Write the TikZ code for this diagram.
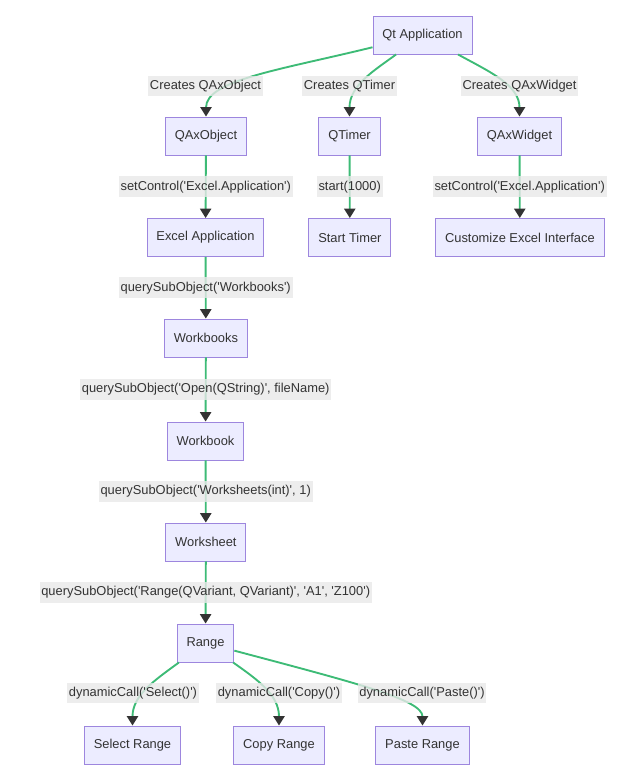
\documentclass[tikz,border=0pt]{standalone}
\usepackage{fontspec}
\setmainfont{Liberation Sans}[Ligatures=TeXOff]
\usepackage{tikz}
\usetikzlibrary{arrows.meta,positioning}
\definecolor{boxfill}{HTML}{ECECFF}
\definecolor{boxline}{HTML}{9D86DE}
\definecolor{linkgreen}{HTML}{3DBB76}
\definecolor{labelgray}{HTML}{E8E8E8}
\definecolor{inkdark}{HTML}{333333}

\begin{document}
\begin{tikzpicture}[x=0.03cm,y=-0.03cm,every node/.style={font=\fontsize{11}{13}\selectfont,text=inkdark},block/.style={draw=boxline,line width=0.8pt,fill=boxfill,minimum height=1.14cm,inner xsep=8pt},elabel/.style={fill=labelgray,fill opacity=0.8,text opacity=1,inner xsep=1.5pt,minimum height=0.62cm},link/.style={draw=linkgreen,line width=1.6pt,-{Triangle[width=9.5pt,length=8pt,color=inkdark]}}]
\useasboundingbox (0,0) rectangle (640,780);
\node[block] (qtapp) at (422.5,35) {Qt Application};
\node[block] (qaxobj) at (206,136) {QAxObject};
\node[block] (qtimer) at (349.5,136) {QTimer};
\node[block] (qaxwid) at (519.5,136) {QAxWidget};
\node[block] (excelapp) at (205.5,237.5) {Excel Application};
\node[block] (starttimer) at (349.9,237.5) {Start Timer};
\node[block] (customize) at (519.9,237.5) {Customize Excel Interface};
\node[block] (workbooks) at (205.9,338) {Workbooks};
\node[block] (workbook) at (205.5,441) {Workbook};
\node[block] (worksheet) at (205.9,542) {Worksheet};
\node[block] (range) at (205.5,643) {Range};
\node[block] (selectr) at (132.5,745) {Select Range};
\node[block] (copyr) at (279,745) {Copy Range};
\node[block] (paster) at (422.5,745) {Paste Range};
% top fan-out
\draw[link] (qtapp) .. controls (280,70) and (206,80) .. (qaxobj);
\draw[link] (qtapp) .. controls (375,70) and (349.5,85) .. (qtimer);
\draw[link] (qtapp) .. controls (490,72) and (519.5,85) .. (qaxwid);
\node[elabel] (lqaxobj) at (205.5,86) {Creates QAxObject};
\node[elabel] (lqtimer) at (349.5,86) {Creates QTimer};
\node[elabel] (lqaxwid) at (519.5,86) {Creates QAxWidget};
\draw[link] (qaxobj) -- (excelapp);
\draw[link] (qtimer) -- (starttimer);
\draw[link] (qaxwid) -- (customize);
\path (qaxobj) -- node[elabel] (lsetobj) {setControl('Excel.Application')} (excelapp);
\path (qtimer) -- node[elabel] (lstart) {start(1000)} (starttimer);
\path (qaxwid) -- node[elabel] (lsetwid) {setControl('Excel.Application')} (customize);
% main chain
\draw[link] (excelapp) -- (workbooks);
\draw[link] (workbooks) -- (workbook);
\draw[link] (workbook) -- (worksheet);
\draw[link] (worksheet) -- (range);
\path (excelapp) -- node[elabel] (lbooks) {querySubObject('Workbooks')} (workbooks);
\path (workbooks) -- node[elabel] (lopen) {querySubObject('Open(QString)', fileName)} (workbook);
\path (workbook) -- node[elabel] (lsheets) {querySubObject('Worksheets(int)', 1)} (worksheet);
\path (worksheet) -- node[elabel] (lrange) {querySubObject('Range(QVariant, QVariant)', 'A1', 'Z100')} (range);
% bottom fan-out
\draw[link] (range) .. controls (155,680) and (132.5,695) .. (selectr);
\draw[link] (range) .. controls (258,680) and (279,695) .. (copyr);
\draw[link] (range) .. controls (360,684) and (422.5,700) .. (paster);
\node[elabel] (lselect) at (133,693) {dynamicCall('Select()')};
\node[elabel] (lcopy) at (279,693) {dynamicCall('Copy()')};
\node[elabel] (lpaste) at (422,693) {dynamicCall('Paste()')};
\end{tikzpicture}
\end{document}
